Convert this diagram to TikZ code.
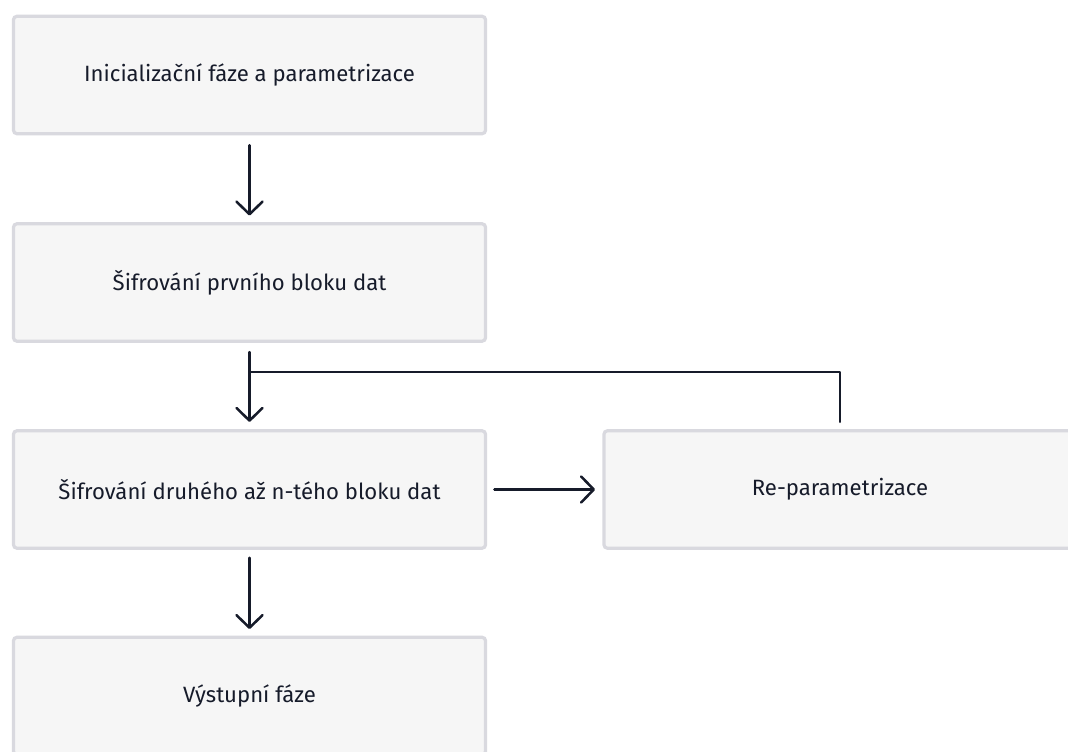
\documentclass[tikz,border=0pt]{standalone}
\usepackage{fontspec}
\setmainfont{Fira Sans}
\usetikzlibrary{arrows.meta}
\definecolor{boxfill}{HTML}{F6F6F6}
\definecolor{boxline}{HTML}{D9D9DF}
\definecolor{ink}{HTML}{161B2A}
\tikzset{
  stepbox/.style={draw=boxline, fill=boxfill, line width=2.4pt, rounded corners=2.5pt,
    minimum width=354pt, minimum height=88pt, inner sep=0pt, font=\fontsize{16.6pt}{19pt}\selectfont, text=ink},
  conn/.style={draw=ink, line width=1.9pt, line cap=round, line join=round},
  arr/.style={conn, -{Straight Barb[length=9.5pt, width=19.5pt, round]}}
}
\begin{document}
\begin{tikzpicture}[x=0.75pt,y=-0.75pt]
\useasboundingbox (0,0) rectangle (1068,752);
\clip (0,0) rectangle (1068,752);
\fill[white] (0,0) rectangle (1068,752);
\node[stepbox] (b1) at (249.5,75) {Inicializační fáze a parametrizace};
\node[stepbox] (b2) at (249.5,282.5) {Šifrování prvního bloku dat};
\node[stepbox] (b3) at (249.5,489.5) {Šifrování druhého až n-tého bloku dat};
\node[stepbox] (b4) at (840,489.5) {Re-parametrizace};
\node[stepbox] (b5) at (249.5,696) {Výstupní fáze};
\coordinate (j) at (249.5,372);
\draw[arr, shorten <=7.5pt, shorten >=5pt] (b1.south) -- (b2.north);
\draw[arr, shorten <=7pt, shorten >=5.5pt] (b2.south) -- (b3.north);
\draw[conn, shorten <=5.5pt] (b4.north) |- (j);
\draw[arr, shorten <=5.5pt, shorten >=5.5pt] (b3.east) -- (b4.west);
\draw[arr, shorten <=6pt, shorten >=5pt] (b3.south) -- (b5.north);
\end{tikzpicture}
\end{document}
